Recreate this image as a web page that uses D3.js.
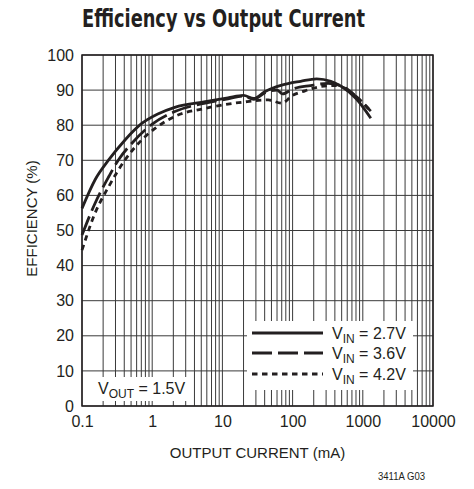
<!DOCTYPE html>
<html>
<head>
<meta charset="utf-8">
<script src="https://cdn.jsdelivr.net/npm/d3@7"></script>
<style>
  body { margin: 0; background: #fff; }
  svg { display: block; }
  text { font-family: "Liberation Sans", Arial, sans-serif; fill: #231f20; }
</style>
</head>
<body>
<div id="chart"></div>
<script>
// values
const xTicks = [0.1, 1, 10, 100, 1000, 10000];
const yTicks = [0, 10, 20, 30, 40, 50, 60, 70, 80, 90, 100];

const cur27 = [0.1, 0.153, 0.24, 0.41, 0.71, 1.2, 2.1, 5.7, 12, 20, 28, 40, 70, 130, 220, 350, 500, 800, 1300];
const eff27 = [56.3, 64.4, 70.1, 75.8, 80.5, 83.2, 85.1, 86.7, 87.8, 88.5, 87.6, 89.5, 91.4, 92.5, 93.2, 92.5, 91, 87.6, 82];

const cur36 = [0.1, 0.153, 0.24, 0.33, 0.51, 1, 2.1, 5.7, 12, 20, 28, 40, 60, 72, 100, 180, 320, 500, 800, 1300];
const eff36 = [48.7, 57.7, 65.3, 70.1, 74.8, 80.3, 83.9, 86.3, 87.5, 88.3, 87.4, 89.2, 90, 88.9, 90.3, 91.3, 91.9, 91.2, 88.2, 84];

const cur42 = [0.1, 0.153, 0.24, 0.41, 0.71, 1.1, 2.1, 5.7, 12, 20, 45, 70, 100, 150, 250, 400, 550, 800, 1300];
const eff42 = [44.4, 54.9, 62.5, 70.1, 75.8, 79.1, 82.5, 84.8, 86, 86.6, 87.2, 86.3, 88.5, 89.8, 91, 91.3, 90.6, 88.2, 84];

const seriesLabels = ["2.7V", "3.6V", "4.2V"];
const seriesDash = [null, "20,6", "5.5,4.5"];

// plot box
const W = 474, H = 489;
const plotL = 82, plotR = 433, plotT = 55, plotB = 406;

const svg = d3.select("#chart").append("svg")
  .attr("width", W)
  .attr("height", H);

const x = d3.scaleLog().domain([0.1, 10000]).range([plotL, plotR]);
const y = d3.scaleLinear().domain([0, 100]).range([plotB, plotT]);

// vertical grid (all log subdivisions)
svg.append("g")
  .selectAll("line")
  .data(x.ticks())
  .join("line")
  .attr("x1", d => x(d)).attr("x2", d => x(d))
  .attr("y1", plotT).attr("y2", plotB)
  .attr("stroke", "#3a3a3a")
  .attr("stroke-width", 1);

// horizontal grid
svg.append("g")
  .selectAll("line")
  .data(yTicks)
  .join("line")
  .attr("x1", plotL).attr("x2", plotR)
  .attr("y1", d => y(d)).attr("y2", d => y(d))
  .attr("stroke", "#3a3a3a")
  .attr("stroke-width", 1);

// frame
svg.append("rect")
  .attr("x", plotL).attr("y", plotT)
  .attr("width", plotR - plotL).attr("height", plotB - plotT)
  .attr("fill", "none")
  .attr("stroke", "#231f20")
  .attr("stroke-width", 1.5);

// x axis labels
const xAxis = d3.axisBottom(x)
  .tickValues(xTicks)
  .tickFormat(d => String(d))
  .tickSize(0)
  .tickPadding(10);
svg.append("g")
  .attr("transform", `translate(0, ${plotB})`)
  .call(xAxis)
  .call(g => g.select(".domain").remove())
  .selectAll("text")
  .style("font-size", "16px")
  .style("font-family", "'Liberation Sans', Arial, sans-serif")
  .attr("fill", "#231f20");

// y axis labels
const yAxis = d3.axisLeft(y)
  .tickValues(yTicks)
  .tickSize(0)
  .tickPadding(8);
svg.append("g")
  .attr("transform", `translate(${plotL}, 0)`)
  .call(yAxis)
  .call(g => g.select(".domain").remove())
  .selectAll("text")
  .style("font-size", "16px")
  .style("font-family", "'Liberation Sans', Arial, sans-serif")
  .attr("fill", "#231f20");

// curves
const line = d3.line()
  .x(d => x(d[0]))
  .y(d => y(d[1]))
  .curve(d3.curveMonotoneX);

const curves = [
  d3.zip(cur27, eff27),
  d3.zip(cur36, eff36),
  d3.zip(cur42, eff42)
];

curves.forEach((pts, i) => {
  svg.append("path")
    .datum(pts)
    .attr("fill", "none")
    .attr("stroke", "#231f20")
    .attr("stroke-width", 2.8)
    .attr("stroke-dasharray", seriesDash[i])
    .attr("d", line);
});

// legend
const legend = svg.append("g");
legend.append("rect")
  .attr("x", 247).attr("y", 321)
  .attr("width", 166).attr("height", 69)
  .attr("fill", "#fff");

const rowY = [333, 353, 374];
seriesLabels.forEach((lab, i) => {
  legend.append("line")
    .attr("x1", 252).attr("x2", 323)
    .attr("y1", rowY[i]).attr("y2", rowY[i])
    .attr("stroke", "#231f20")
    .attr("stroke-width", 2.8)
    .attr("stroke-dasharray", seriesDash[i]);
  const t = legend.append("text")
    .attr("x", 332)
    .attr("y", rowY[i] + 6)
    .style("font-size", "16px");
  t.append("tspan").text("V");
  t.append("tspan").attr("dy", 4).style("font-size", "12px").text("IN");
  t.append("tspan").attr("dy", -4).text(" = " + lab);
});

// VOUT note
svg.append("rect")
  .attr("x", 95).attr("y", 377)
  .attr("width", 95).attr("height", 24)
  .attr("fill", "#fff");
const vout = svg.append("text")
  .attr("x", 98)
  .attr("y", 394)
  .style("font-size", "16px");
vout.append("tspan").text("V");
vout.append("tspan").attr("dy", 4).style("font-size", "12px").text("OUT");
vout.append("tspan").attr("dy", -4).text(" = 1.5V");

// axis titles
svg.append("text")
  .attr("x", (plotL + plotR) / 2)
  .attr("y", 458)
  .attr("text-anchor", "middle")
  .style("font-size", "15px")
  .text("OUTPUT CURRENT (mA)");

svg.append("text")
  .attr("transform", `translate(37, ${(plotT + plotB) / 2 - 12}) rotate(-90)`)
  .attr("text-anchor", "middle")
  .style("font-size", "15px")
  .text("EFFICIENCY (%)");

// chart title
svg.append("text")
  .attr("x", 82)
  .attr("y", 27)
  .attr("textLength", 283)
  .attr("lengthAdjust", "spacingAndGlyphs")
  .style("font-size", "24px")
  .style("font-weight", "bold")
  .style("font-family", "'Liberation Sans Narrow', 'DejaVu Sans Condensed', Arial, sans-serif")
  .text("Efficiency vs Output Current");

// figure code
svg.append("text")
  .attr("x", 378)
  .attr("y", 480)
  .attr("textLength", 47)
  .attr("lengthAdjust", "spacingAndGlyphs")
  .style("font-size", "10px")
  .text("3411A G03");
</script>
</body>
</html>
